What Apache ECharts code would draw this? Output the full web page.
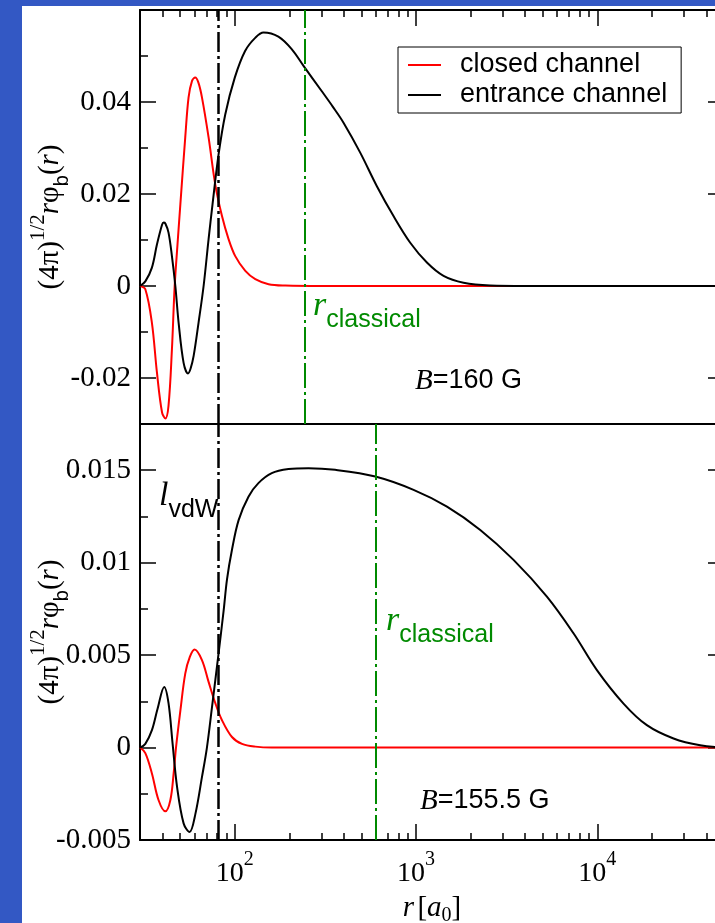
<!DOCTYPE html>
<html><head><meta charset="utf-8">
<script src="https://cdn.jsdelivr.net/npm/echarts@6/dist/echarts.min.js"></script>
<style>html,body{margin:0;padding:0;background:#3358c4}#c{width:715px;height:923px}</style>
</head><body><div id="c"></div><script>
// ---- data (r in a0, values of (4pi)^1/2 r phi_b(r)) ----
const topClosedR = [30, 32.1, 34.9, 37.2, 39.7, 41.4, 43.1, 45.0, 46.6, 48.3, 50.1, 53.3, 55.6, 58.1, 60.5, 63, 65.9, 71.7, 78.1, 85.0, 92.4, 100.6, 114.3, 129.8, 153.6, 190, 300, 1000, 50000];
const topClosedV = [0, -0.0007, -0.008, -0.0188, -0.0275, -0.0288, -0.026, -0.0138, 0, 0.009, 0.0178, 0.0323, 0.041, 0.0446, 0.0453, 0.0442, 0.041, 0.0323, 0.022, 0.0152, 0.0102, 0.0065, 0.0033, 0.0015, 0.0004, 0.0001, 0, 0, 0];
const topEntranceR = [30, 32.1, 34.9, 37.2, 39.7, 40.5, 41.4, 43.1, 45.0, 47.0, 49.0, 52.2, 55.2, 57.0, 59.3, 63.1, 67.3, 71.7, 75.4, 81.4, 88.6, 100, 114, 130, 144, 174, 207, 240, 300, 347, 398, 492, 608, 751, 929, 1148, 1418, 1828, 2566, 4000, 50000];
const topEntranceV = [0, 0.001, 0.004, 0.009, 0.0133, 0.0138, 0.0136, 0.0116, 0.0065, 0, -0.008, -0.0167, -0.019, -0.018, -0.0152, -0.008, 0, 0.0102, 0.0178, 0.0286, 0.0373, 0.0453, 0.0511, 0.054, 0.0551, 0.0542, 0.0514, 0.0478, 0.0425, 0.039, 0.0355, 0.029, 0.0217, 0.0152, 0.0094, 0.0051, 0.0022, 0.0007, 0.0001, 0, 0];
const botClosedR = [30, 32.1, 34.9, 38.0, 41.4, 44.1, 46.0, 47.4, 50.1, 53.3, 56.5, 60.0, 65.9, 71.7, 78.1, 85.0, 96.5, 109.6, 129.8, 160, 50000];
const botClosedV = [0, -0.0003, -0.0014, -0.00285, -0.00345, -0.00285, -0.0014, 0, 0.002, 0.004, 0.0049, 0.0053, 0.00473, 0.00355, 0.0024, 0.00148, 0.00057, 0.0002, 0.00005, 0, 0];
const botEntranceR = [30, 32.1, 34.9, 37.5, 40.8, 43.1, 45.4, 48.0, 52.2, 56.3, 60.6, 65.9, 70.2, 74.9, 81.4, 86.8, 90.6, 96.5, 105, 119, 135, 160, 198, 255, 358, 596, 969, 1481, 2261, 3450, 5272, 7390, 9950, 13950, 18770, 26330, 36940, 50000];
const botEntranceV = [0, 0.0002, 0.00094, 0.0021, 0.00328, 0.0024, 0.0002, -0.0021, -0.0041, -0.00457, -0.0036, -0.0016, 0, 0.0022, 0.0051, 0.0074, 0.0091, 0.0107, 0.0123, 0.01357, 0.0143, 0.01484, 0.01506, 0.01511, 0.01502, 0.01466, 0.01394, 0.01303, 0.01177, 0.01015, 0.00816, 0.00618, 0.00419, 0.00238, 0.00121, 0.00049, 0.00012, 0];
const lvdW = 81.4;
const rClassicalTop = 241.7;
const rClassicalBot = 596;
const xMajorTicks = [100, 1000, 10000];
const xMinorTicks = [40, 50, 60, 70, 80, 90, 200, 300, 400, 500, 600, 700, 800, 900, 2000, 3000, 4000, 5000, 6000, 7000, 8000, 9000, 20000, 30000, 40000];
const topYMajor = [-0.02, 0, 0.02, 0.04];
const topYMinor = [-0.01, 0.01, 0.03, 0.05];
const botYMajor = [-0.005, 0, 0.005, 0.01, 0.015];
const botYMinor = [-0.0025, 0.0025, 0.0075, 0.0125];
const seriesNames = ['closed channel', 'entrance channel'];
const panelLabels = ['=160 G', '=155.5 G'];

const zip = (a, b) => a.map((v, i) => [v, b[i]]);
const SERIF = 'Liberation Serif, Times New Roman, serif';
const SANS = 'Liberation Sans, Arial, sans-serif';
const GREEN = '#008a00';

function xAx(grid, pos, ticks, len, line, labels) {
  return {
    type: 'log', logBase: 10, gridIndex: grid, position: pos, min: 30, max: 50000,
    axisLine: { show: line, onZero: false, lineStyle: { color: '#000', width: 2 } },
    axisTick: { show: !!ticks, inside: true, length: len, customValues: ticks || [], lineStyle: { color: '#000', width: 1.5 } },
    axisLabel: labels ? {
      show: true, margin: 10, customValues: xMajorTicks,
      formatter: v => '{b|10}{s|' + Math.round(Math.log10(v)) + '}',
      rich: {
        b: { fontFamily: SERIF, fontSize: 28, color: '#000', lineHeight: 38, verticalAlign: 'bottom' },
        s: { fontFamily: SERIF, fontSize: 20, color: '#000', lineHeight: 38, verticalAlign: 'top' }
      }
    } : { show: false },
    splitLine: { show: false }, minorTick: { show: false }
  };
}
function yAx(grid, pos, min, max, ticks, len, line, labels, name) {
  const o = {
    type: 'value', gridIndex: grid, position: pos, min: min, max: max,
    axisLine: { show: line, onZero: false, lineStyle: { color: '#000', width: 2 } },
    axisTick: { show: true, inside: true, length: len, customValues: ticks, lineStyle: { color: '#000', width: 1.5 } },
    axisLabel: labels ? {
      show: true, margin: 9, customValues: ticks, color: '#000', fontFamily: SERIF, fontSize: 29,
      formatter: v => String(Number(v.toFixed(5)))
    } : { show: false },
    splitLine: { show: false }
  };
  if (name) {
    o.name = '{a|(4π)}{sup|1/2}{i|r}{a|φ}{sub|b}{a|(}{i|r}{a|)}';
    o.nameLocation = 'middle';
    o.nameRotate = 90;
    o.nameGap = 68;
    o.nameMoveOverlap = false;
    o.nameTextStyle = {
      color: '#000',
      rich: {
        a: { fontFamily: SERIF, fontSize: 29, lineHeight: 44, verticalAlign: 'middle', color: '#000' },
        i: { fontFamily: SERIF, fontStyle: 'italic', fontSize: 29, lineHeight: 44, verticalAlign: 'middle', color: '#000' },
        sup: { fontFamily: SERIF, fontSize: 21, lineHeight: 44, verticalAlign: 'top', color: '#000' },
        sub: { fontFamily: SANS, fontSize: 20, lineHeight: 44, verticalAlign: 'bottom', color: '#000' }
      }
    };
  }
  return o;
}

const richLabel = {
  i: { fontFamily: SERIF, fontStyle: 'italic', fontSize: 34, lineHeight: 44, verticalAlign: 'top' },
  s: { fontFamily: SANS, fontSize: 25, lineHeight: 44, verticalAlign: 'bottom' },
  bi: { fontFamily: SERIF, fontStyle: 'italic', fontSize: 29, lineHeight: 34, verticalAlign: 'middle' },
  t: { fontFamily: SANS, fontSize: 27, lineHeight: 34, verticalAlign: 'middle' }
};

function markLines(lines) {
  return {
    silent: true, symbol: ['none', 'none'], label: { show: false },
    data: lines.map(l => ({ xAxis: l.x, lineStyle: { color: l.c, width: l.w, type: l.t } }))
  };
}
const dashBlack = [20, 4, 3, 4];
const dashGreen = [25, 4, 3, 4];

const chart = echarts.init(document.getElementById('c'), null, { renderer: 'canvas' });
chart.setOption({
  animation: false,
  backgroundColor: '#3358c4',
  graphic: [
    { type: 'rect', z: -100, silent: true, shape: { x: 22, y: 6, width: 700, height: 923 }, style: { fill: '#fff' } },
    { type: 'text', x: 313, y: 289, z: 100, style: { text: '{i|r}{s|classical}', rich: richLabel, fill: GREEN } },
    { type: 'text', x: 415, y: 364, z: 100, style: { text: '{bi|B}{t|' + panelLabels[0] + '}', rich: richLabel, fill: '#000' } },
    { type: 'text', x: 159, y: 479, z: 100, style: { text: '{i|l}{s|vdW}', rich: richLabel, fill: '#000' } },
    { type: 'text', x: 386, y: 604, z: 100, style: { text: '{i|r}{s|classical}', rich: richLabel, fill: GREEN } },
    { type: 'text', x: 420, y: 784, z: 100, style: { text: '{bi|B}{t|' + panelLabels[1] + '}', rich: richLabel, fill: '#000' } }
  ],
  legend: {
    data: seriesNames, left: 398, top: 47, orient: 'vertical', icon: 'rect',
    itemWidth: 33, itemHeight: 2, itemGap: 0, padding: [3, 14, 3, 10],
    borderColor: '#000', borderWidth: 1, backgroundColor: '#fff', borderRadius: 0,
    textStyle: { fontFamily: SANS, fontSize: 27, lineHeight: 30, color: '#000', padding: [0, 0, 0, 14] }
  },
  grid: [
    { left: 140, right: -9, top: 10, height: 414, outerBoundsMode: 'none', containLabel: false },
    { left: 140, right: -9, top: 424, height: 416, outerBoundsMode: 'none', containLabel: false }
  ],
  xAxis: [
    xAx(0, 'top', xMajorTicks, 16, true, false),
    xAx(0, 'top', xMinorTicks, 7, false, false),
    Object.assign(xAx(1, 'bottom', xMajorTicks, 16, true, true), {
      name: '{i|r} {a|[}{i|a}{sub|0}{a|]}', nameLocation: 'middle', nameGap: 50,
      nameTextStyle: { color: '#000', rich: {
        a: { fontFamily: SERIF, fontSize: 29, lineHeight: 36, verticalAlign: 'middle', color: '#000' },
        i: { fontFamily: SERIF, fontStyle: 'italic', fontSize: 29, lineHeight: 36, verticalAlign: 'middle', color: '#000' },
        sub: { fontFamily: SERIF, fontSize: 20, lineHeight: 36, verticalAlign: 'bottom', color: '#000' }
      } }
    }),
    xAx(1, 'bottom', xMinorTicks, 7, false, false),
    xAx(1, 'top', null, 0, true, false)
  ],
  yAxis: [
    yAx(0, 'left', -0.03, 0.06, topYMajor, 16, true, true, true),
    yAx(0, 'left', -0.03, 0.06, topYMinor, 8, false, false),
    yAx(0, 'right', -0.03, 0.06, topYMajor, 16, true, false),
    yAx(0, 'right', -0.03, 0.06, topYMinor, 8, false, false),
    yAx(1, 'left', -0.005, 0.0175, botYMajor, 16, true, true, true),
    yAx(1, 'left', -0.005, 0.0175, botYMinor, 8, false, false),
    yAx(1, 'right', -0.005, 0.0175, botYMajor, 16, true, false),
    yAx(1, 'right', -0.005, 0.0175, botYMinor, 8, false, false)
  ],
  series: [
    { name: seriesNames[0], type: 'line', xAxisIndex: 0, yAxisIndex: 0, data: zip(topClosedR, topClosedV), symbol: 'none', smooth: 0.35, lineStyle: { color: '#ff0000', width: 2 }, itemStyle: { color: '#ff0000' }, z: 3 },
    { name: seriesNames[1], type: 'line', xAxisIndex: 0, yAxisIndex: 0, data: zip(topEntranceR, topEntranceV), symbol: 'none', smooth: 0.35, lineStyle: { color: '#000', width: 2 }, itemStyle: { color: '#000' }, z: 4,
      markLine: markLines([{ x: lvdW, c: '#000', w: 2.5, t: dashBlack }, { x: rClassicalTop, c: GREEN, w: 2, t: dashGreen }]) },
    { name: seriesNames[0], type: 'line', xAxisIndex: 2, yAxisIndex: 4, data: zip(botClosedR, botClosedV), symbol: 'none', smooth: 0.35, lineStyle: { color: '#ff0000', width: 2 }, itemStyle: { color: '#ff0000' }, z: 3 },
    { name: seriesNames[1], type: 'line', xAxisIndex: 2, yAxisIndex: 4, data: zip(botEntranceR, botEntranceV), symbol: 'none', smooth: 0.35, lineStyle: { color: '#000', width: 2 }, itemStyle: { color: '#000' }, z: 4,
      markLine: markLines([{ x: lvdW, c: '#000', w: 2.5, t: dashBlack }, { x: rClassicalBot, c: GREEN, w: 2, t: dashGreen }]) }
  ]
});
</script></body></html>
